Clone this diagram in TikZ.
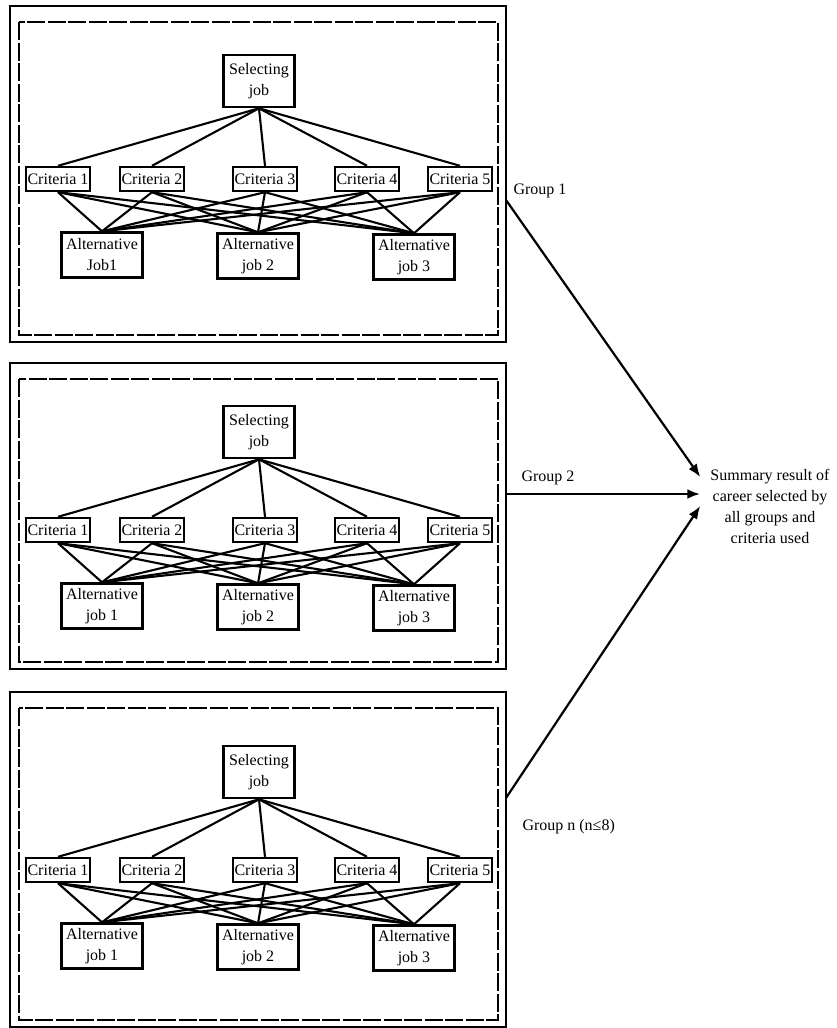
\documentclass[tikz,border=0pt]{standalone}
\usepackage{fontspec}
\setmainfont{Liberation Serif}
\usetikzlibrary{arrows.meta}

\begin{document}
\begin{tikzpicture}[x=1pt,y=-1pt,>={Latex[length=13pt,width=10pt]},
  every node/.style={font=\fontsize{16}{21}\selectfont},
  sel/.style={draw,line width=2.6pt,align=center,minimum width=71pt,minimum height=52pt,inner sep=2pt},
  crit/.style={draw,line width=2.4pt,inner xsep=1.5pt,inner ysep=2pt,minimum height=24pt},
  alt/.style={draw,line width=2.4pt,align=center,minimum width=81pt,minimum height=45pt,inner sep=2pt},
  link/.style={line width=2.1pt},
  grpouter/.style={line width=2.6pt},
  grpinner/.style={line width=2.6pt,dash pattern=on 18pt off 2.5pt}]
  \useasboundingbox (0,0) rectangle (836,1028);

  % one hierarchy per group
  \foreach \g/\ya/\yb/\dy/\jobone in {1/6/342/0/Job1,2/363/669/351/job 1,3/692/1027/691/job 1}{
    \draw[grpouter] (10,\ya) rectangle (506,\yb);
    \draw[grpinner] (19,\ya+16) rectangle (498,\yb-7);
    \node[sel] (s\g) at (259,81+\dy) {Selecting\\job};
    \foreach \i/\x in {1/58,2/152,3/265,4/367,5/460}
      \node[crit] (c\g-\i) at (\x,179+\dy) {Criteria \i};
    \node[alt] (a\g-1) at (102,255+\dy) {Alternative\\\jobone};
    \node[alt] (a\g-2) at (258,256+\dy) {Alternative\\job 2};
    \node[alt] (a\g-3) at (414,257+\dy) {Alternative\\job 3};
    \foreach \i in {1,...,5}{
      \draw[link] (s\g.south) -- (c\g-\i.north);
      \foreach \j in {1,2,3}
        \draw[link] (c\g-\i.south) -- (a\g-\j.north);
    }
  }

  % summary on the right
  \node[align=center,inner sep=10pt] (sum) at (770,506)
    {Summary result of\\career selected by\\all groups and\\criteria used};
  \node[anchor=west] (l1) at (510,191) {Group 1};
  \node[anchor=west] (l2) at (518,478) {Group 2};
  \node[anchor=west] (l3) at (519,827) {Group n (n≤8)};
  \coordinate (o1) at (506,200);
  \coordinate (o2) at (506,494);
  \coordinate (o3) at (506,798);
  \draw[->,line width=2.2pt] (o1) -- ([yshift=29pt]sum.west);
  \draw[->,line width=2.6pt] (o2) -- (sum.west |- o2);
  \draw[->,line width=2.2pt] (o3) -- (sum.west);
\end{tikzpicture}
\end{document}
